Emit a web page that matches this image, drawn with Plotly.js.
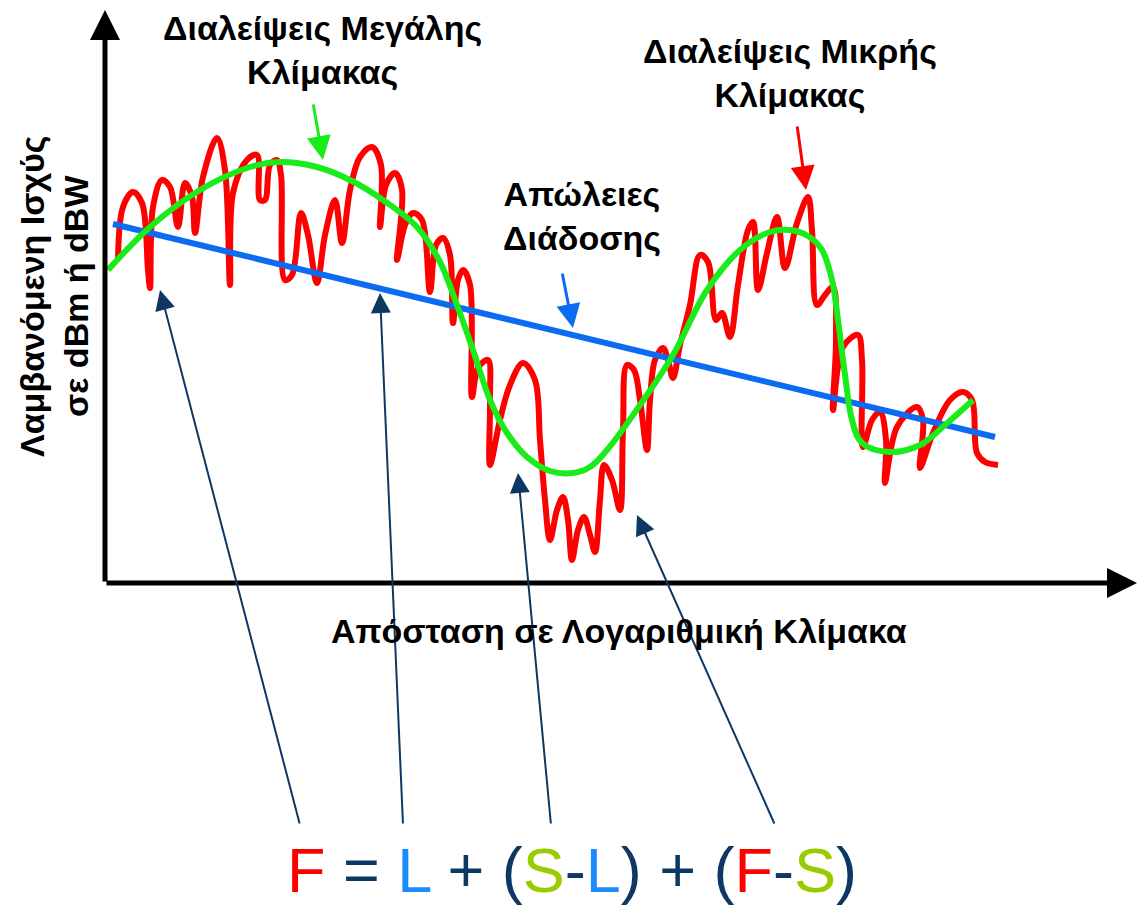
<!DOCTYPE html>
<html>
<head>
<meta charset="utf-8">
<script src="https://cdn.plot.ly/plotly-3.0.1.min.js"></script>
<style>html,body{margin:0;padding:0;background:#fff;}#chart{width:1138px;height:914px;}</style>
</head>
<body>
<div id="chart"></div>
<script>
// Distance (arbitrary log-scale units) and received power (arbitrary dB units)
const fastDistance = [13,18,28,37,43,45,48,57,65,73,80,87,90,98,112,120,125,128,142,152,155,160,165,172,176,180,187,196,203,212,220,230,237,245,255,267,276,275,281,290,297,292,300,308,317,325,331,338,345,348,353,358,365,367,373,383,385,385,395,405,418,430,435,440,445,452,458,463,467,473,479,485,490,495,499,507,515,518,522,529,535,542,545,550,558,563,568,575,585,595,603,611,617,625,633,643,648,653,662,672,680,692,703,707,712,720,728,731,728,738,753,757,758,767,775,781,780,792,812,818,815,828,845,858,867,872,880,893];
const fastPower    = [323,376,391,380,313,295,376,403,396,356,400,386,350,406,445,413,298,390,423,428,383,383,418,423,408,303,308,370,348,300,348,383,340,393,426,436,418,356,398,410,393,323,358,370,363,291,338,345,328,260,303,313,298,186,215,223,183,118,163,198,220,203,143,83,43,73,86,63,23,53,66,48,31,83,118,103,73,153,218,213,183,133,183,223,235,223,205,238,278,328,321,263,270,246,298,353,361,293,330,366,315,360,386,353,278,288,296,243,173,236,248,223,136,163,171,143,100,156,176,163,115,150,183,191,183,130,121,118];

const slowDistance = [3,45,95,145,175,212,245,278,312,335,352,368,385,402,422,445,468,485,502,535,568,602,635,665,685,703,717,727,733,740,747,757,785,815,840,868];
const slowPower    = [313,356,393,416,421,416,403,383,356,321,278,233,183,150,126,112,110,116,133,178,228,293,333,351,353,347,333,303,263,208,163,140,131,138,158,183];

const lossDistance = [8,890];
const lossPower    = [359,146];

const labels = {
  large: 'Διαλείψεις Μεγάλης<br>Κλίμακας',
  small: 'Διαλείψεις Μικρής<br>Κλίμακας',
  loss: 'Απώλειες<br>Διάδοσης',
  xTitle: 'Απόσταση σε Λογαριθμική Κλίμακα',
  yTitle: 'Λαμβανόμενη Ισχύς<br>σε dBm ή dBW'
};

const RED = '#ff0000', GREEN = '#1aeb1a', BLUE = '#0b6cf2', NAVY = '#0d3863';
const FONT = 'Liberation Sans, Arial, sans-serif';

const traces = [
  {x: fastDistance, y: fastPower, mode: 'lines', line: {color: RED, width: 6, shape: 'spline', smoothing: 1}, hoverinfo: 'skip'},
  {x: lossDistance, y: lossPower, mode: 'lines', line: {color: BLUE, width: 6}, hoverinfo: 'skip'},
  {x: slowDistance, y: slowPower, mode: 'lines', line: {color: GREEN, width: 6, shape: 'spline', smoothing: 1}, hoverinfo: 'skip'}
];

function arrow(x, y, ax, ay, color, width, size) {
  return {x: x, y: y, ax: ax, ay: ay, xref: 'x', yref: 'y', axref: 'x', ayref: 'y',
    text: '', showarrow: true, arrowhead: 2, arrowcolor: color, arrowwidth: width, arrowsize: size, standoff: 0, startstandoff: 0};
}
function label(x, y, text, size, extra) {
  return Object.assign({x: x, y: y, xref: 'x', yref: 'y', text: text, showarrow: false,
    xanchor: 'center', yanchor: 'middle', align: 'center',
    font: {family: FONT, size: size, color: '#000', weight: 'bold'}}, extra || {});
}

const formula = '<span style="color:#ff0000">F</span> = <span style="color:#1a8cff">L</span> + (<span style="color:#99cc00">S</span>-<span style="color:#1a8cff">L</span>) + (<span style="color:#ff0000">F</span>-<span style="color:#99cc00">S</span>)';

const annotations = [
  // axes
  arrow(0, 573, 0, 0, '#000', 5, 1.2),
  arrow(1032, 0, 0, 0, '#000', 5, 1.2),
  // colored pointers
  arrow(218, 423, 208, 480, GREEN, 3, 1.6),
  arrow(468, 255, 457, 311, BLUE, 3, 1.6),
  arrow(701, 393, 692, 458, RED, 3, 1.6),
  // formula pointers
  arrow(55, 293, 195, -242, NAVY, 2, 2),
  arrow(275, 290, 298, -242, NAVY, 2, 2),
  arrow(413, 110, 446, -242, NAVY, 2, 2),
  arrow(532, 68, 670, -242, NAVY, 2, 2),
  // texts
  label(217, 533, labels.large, 34),
  label(685, 510, labels.small, 34),
  label(477, 367, labels.loss, 34),
  label(514, -48, labels.xTitle, 34),
  label(-51, 287, labels.yTitle, 34, {textangle: -90}),
  {x: 467, y: -287, xref: 'x', yref: 'y', text: formula, showarrow: false, xanchor: 'center', yanchor: 'middle',
   font: {family: FONT, size: 63, color: NAVY}}
];

const layout = {
  width: 1138, height: 914,
  margin: {l: 0, r: 0, t: 0, b: 0},
  paper_bgcolor: '#fff', plot_bgcolor: '#fff',
  showlegend: false,
  xaxis: {range: [-105, 1033], visible: false, fixedrange: true},
  yaxis: {range: [-331, 583], visible: false, fixedrange: true},
  annotations: annotations
};

Plotly.newPlot('chart', traces, layout, {staticPlot: true});
</script>
</body>
</html>
